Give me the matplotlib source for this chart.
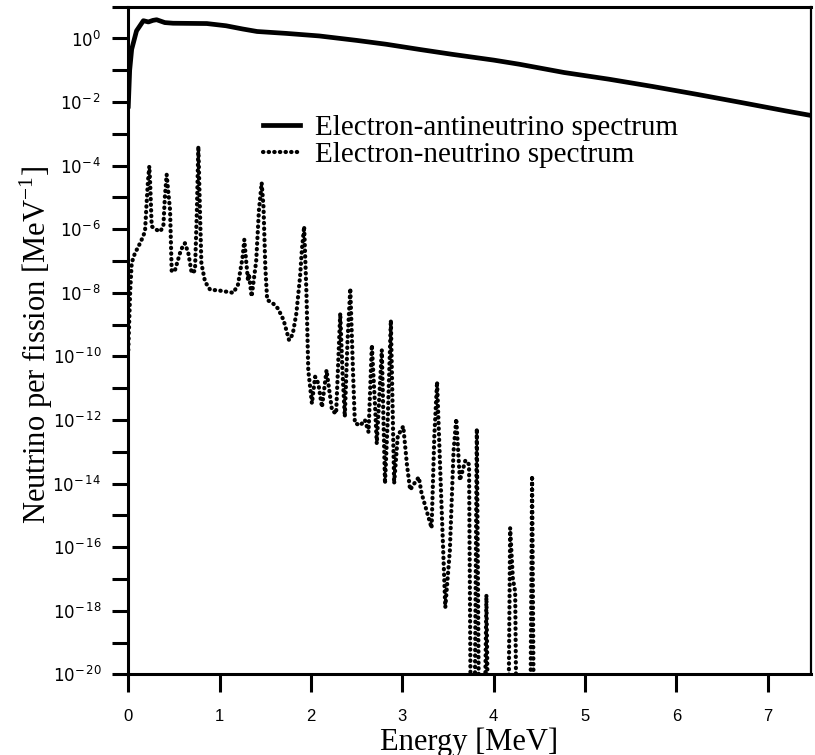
import matplotlib
matplotlib.use("Agg")
import matplotlib.pyplot as plt
import numpy as np

# ---- data ----
anti_E = [0.0, 0.015, 0.037, 0.09, 0.165, 0.22, 0.27, 0.31, 0.40, 0.49, 0.86, 1.07,
          1.25, 1.41, 1.73, 2.09, 2.5, 2.82, 3.2, 3.55, 4.0, 4.28, 4.77, 5.26, 5.74,
          6.23, 6.72, 7.2, 7.47]
anti_log = [-2.13, -1.0, -0.34, 0.24, 0.56, 0.52, 0.57, 0.59, 0.50, 0.48, 0.47, 0.40,
            0.30, 0.22, 0.16, 0.08, -0.06, -0.18, -0.35, -0.5, -0.68, -0.81, -1.07, -1.28,
            -1.51, -1.76, -2.02, -2.28, -2.42]

nue_E = [0.0, 0.01, 0.02, 0.037, 0.073, 0.11, 0.146, 0.183, 0.20, 0.215, 0.23, 0.24,
         0.256, 0.31, 0.35, 0.384, 0.40, 0.42, 0.44, 0.457, 0.475, 0.51, 0.566, 0.60,
         0.62, 0.657, 0.694, 0.73, 0.75, 0.767, 0.785, 0.80, 0.84, 0.895, 1.0, 1.15,
         1.20, 1.25, 1.27, 1.29, 1.31, 1.32, 1.35, 1.40, 1.43, 1.46, 1.48, 1.50, 1.52,
         1.59, 1.64, 1.70, 1.76, 1.80, 1.84, 1.88, 1.90, 1.925, 1.95, 1.97, 2.01, 2.045,
         2.08, 2.12, 2.17, 2.23, 2.275, 2.32, 2.345, 2.37, 2.40, 2.43, 2.46, 2.48, 2.54,
         2.59, 2.63, 2.666, 2.70, 2.72, 2.775, 2.81, 2.84, 2.874, 2.91, 2.95, 3.01, 3.05,
         3.085, 3.13, 3.18, 3.21, 3.27, 3.32, 3.35, 3.38, 3.42, 3.47, 3.52, 3.56, 3.59,
         3.63, 3.69, 3.73, 3.75, 3.79, 3.815, 3.84, 3.90, 3.92, 3.94, 4.16, 4.18, 4.21,
         4.235, 4.25, 4.40, 4.42, 4.44]
nue_log = [-9.8, -8.9, -8.0, -7.06, -6.75, -6.55, -6.33, -6.07, -5.2, -4.5, -4.02, -4.6,
           -5.91, -6.02, -6.07, -5.9, -5.0, -4.28, -4.9, -5.39, -7.33, -7.3, -6.75, -6.5,
           -6.44, -6.75, -7.38, -7.3, -5.5, -3.39, -5.5, -7.07, -7.65, -7.9, -7.93, -8.0,
           -7.75, -6.9, -6.33, -7.0, -7.6, -7.4, -8.12, -7.0, -5.4, -4.54, -5.3, -7.2, -8.22,
           -8.35, -8.5, -8.86, -9.49, -9.3, -8.64, -7.5, -6.65, -5.91, -8.0, -10.43, -11.48,
           -10.64, -10.85, -11.6, -10.43, -11.7, -11.8, -8.64, -10.5, -11.9, -9.5, -7.86,
           -10.5, -12.1, -12.17, -12.0, -12.38, -9.64, -11.5, -12.75, -9.8, -14.0, -12.0,
           -8.86, -14.0, -12.5, -12.2, -13.4, -14.2, -14.0, -13.8, -14.3, -14.9, -15.4,
           -12.5, -10.8, -14.0, -17.9, -16.1, -13.0, -11.96, -13.9, -13.27, -13.4, -22,
           -22, -12.27, -22, -22, -17.5, -22, -22, -15.4, -17.0, -17.4, -22, -22, -13.75, -22]

x_ticks = [0, 1, 2, 3, 4, 5, 6, 7]
y_label_exps = list(range(-20, 1, 2))

# ---- style ----
plt.rcParams['mathtext.fontset'] = 'custom'
plt.rcParams['mathtext.rm'] = 'Liberation Sans'
plt.rcParams['mathtext.it'] = 'Liberation Sans'
plt.rcParams['mathtext.bf'] = 'Liberation Sans'

fig = plt.figure(figsize=(8.15, 7.55), dpi=100)
W, H = 815, 755
x0, x1, yb, yt = 128.3, 810.7, 674.3, 6.7
ax = fig.add_axes([x0 / W, 1 - yb / H, (x1 - x0) / W, (yb - yt) / H])

anti_vals = 10.0 ** np.array(anti_log)
nue_vals = 10.0 ** np.array(nue_log)

ax.plot(anti_E, anti_vals, color='black', lw=3.4, solid_joinstyle='round',
        label='Electron-antineutrino spectrum')
ax.plot(nue_E, nue_vals, color='black', lw=3.0, linestyle=(0, (0.1, 1.25)),
        dash_capstyle='round', label='Electron-neutrino spectrum')

ax.set_yscale('log')
ax.set_xlim(0, 7.47)
ax.set_ylim(1e-20, 1e1)

ax.set_xticks(x_ticks)
ax.set_xticklabels([str(t) for t in x_ticks], fontsize=12, family='Liberation Sans')
yt_all = [10.0 ** e for e in range(-20, 2)]
ax.yaxis.set_major_locator(matplotlib.ticker.FixedLocator(yt_all))
ax.yaxis.set_minor_locator(matplotlib.ticker.NullLocator())
labels = []
for e in range(-20, 2):
    if e in y_label_exps:
        if e < 0:
            labels.append(r'$\mathregular{10^{-\,%d}}$' % (-e))
        else:
            labels.append(r'$\mathregular{10^{%d}}$' % e)
    else:
        labels.append('')
ax.set_yticklabels(labels, fontsize=12)

ax.tick_params(axis='x', direction='out', length=13, width=2.2, pad=12)
ax.tick_params(axis='y', direction='out', length=11.5, width=2.2, pad=8)

for s in ['left', 'bottom', 'top']:
    ax.spines[s].set_linewidth(2.2)
ax.spines['right'].set_linewidth(1.6)

ax.set_xlabel('Energy [MeV]', fontsize=22, family='Liberation Serif')
ax.set_ylabel(r'Neutrino per fission [MeV$^{\mathregular{-1}}$]', fontsize=22,
              family='Liberation Serif')
ax.xaxis.set_label_coords(0.5, -0.079)
ax.yaxis.set_label_coords(-0.107, 0.493)

fs = 21
fs_px = fs * 100 / 72
leg = ax.legend(loc='upper left', bbox_to_anchor=(263 / W, 1 - 115 / H),
                bbox_transform=fig.transFigure, frameon=False, borderpad=0,
                borderaxespad=0, handlelength=37 / fs_px, handletextpad=15 / fs_px,
                labelspacing=0.0, prop={'family': 'Liberation Serif', 'size': fs})

fig.savefig('out.png', dpi=100)
